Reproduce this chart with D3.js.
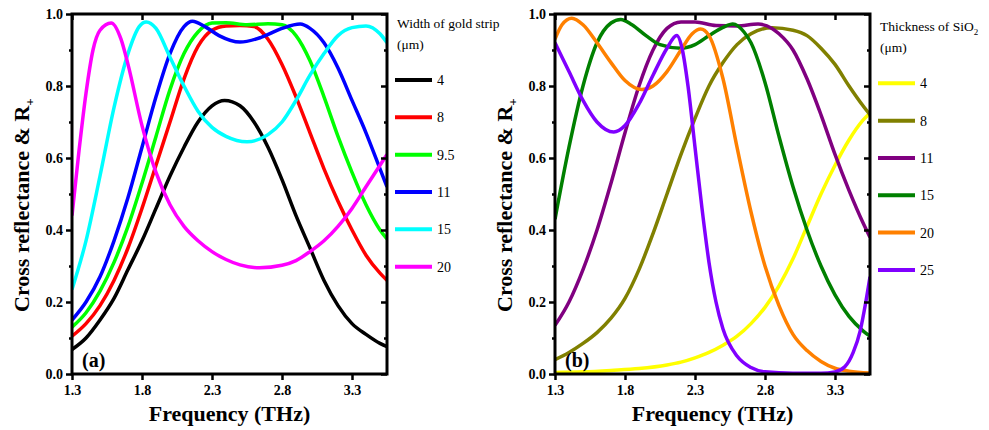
<!DOCTYPE html>
<html><head><meta charset="utf-8">
<script src="https://cdn.jsdelivr.net/npm/d3@7"></script>
<style>body{margin:0;background:#fff}</style>
</head><body><svg id="c" width="989" height="430"></svg>
<script>
// ---------- data ----------
const xTicks = [1.3, 1.8, 2.3, 2.8, 3.3];
const yTicks = [0, 0.2, 0.4, 0.6, 0.8, 1.0];
const yMinorTicks = [0.1, 0.3, 0.5, 0.7, 0.9];
const xDomain = [1.3, 3.55];

// Panel (a): width of gold strip (µm)
const widthLabels = ["4", "8", "9.5", "11", "15", "20"];
const widthColors = ["#000000", "#ff0000", "#00ff00", "#0000ff", "#00ffff", "#ff00ff"];
const w4 = [[1.3,0.068],[1.4,0.1],[1.5,0.15],[1.6,0.21],[1.7,0.29],[1.8,0.37],[1.9,0.46],[2.0,0.55],[2.1,0.63],[2.2,0.7],[2.3,0.745],[2.39,0.76],[2.5,0.745],[2.6,0.7],[2.7,0.63],[2.8,0.54],[2.9,0.44],[3.0,0.35],[3.1,0.26],[3.2,0.19],[3.3,0.14],[3.4,0.11],[3.5,0.085],[3.55,0.076]];
const w8 = [[1.3,0.105],[1.4,0.14],[1.5,0.19],[1.6,0.26],[1.7,0.35],[1.8,0.46],[1.9,0.58],[2.0,0.7],[2.1,0.82],[2.2,0.91],[2.3,0.955],[2.4,0.967],[2.5,0.968],[2.6,0.965],[2.7,0.93],[2.8,0.86],[2.9,0.77],[3.0,0.67],[3.1,0.57],[3.2,0.48],[3.3,0.4],[3.4,0.33],[3.5,0.28],[3.55,0.26]];
const w95 = [[1.3,0.13],[1.4,0.17],[1.5,0.23],[1.6,0.31],[1.7,0.41],[1.8,0.53],[1.9,0.66],[2.0,0.79],[2.1,0.89],[2.2,0.95],[2.3,0.975],[2.4,0.976],[2.55,0.97],[2.7,0.973],[2.8,0.97],[2.9,0.94],[3.0,0.87],[3.1,0.77],[3.2,0.66],[3.3,0.56],[3.4,0.47],[3.5,0.4],[3.55,0.375]];
const w11 = [[1.3,0.15],[1.4,0.2],[1.5,0.27],[1.6,0.37],[1.7,0.49],[1.8,0.63],[1.9,0.77],[2.0,0.89],[2.1,0.965],[2.16,0.98],[2.25,0.965],[2.35,0.94],[2.5,0.922],[2.65,0.935],[2.8,0.96],[2.93,0.972],[3.0,0.96],[3.1,0.92],[3.2,0.85],[3.3,0.76],[3.4,0.67],[3.5,0.57],[3.55,0.52]];
const w15 = [[1.3,0.235],[1.4,0.37],[1.5,0.55],[1.6,0.74],[1.7,0.89],[1.78,0.965],[1.83,0.978],[1.9,0.96],[2.0,0.88],[2.1,0.8],[2.2,0.73],[2.3,0.685],[2.4,0.66],[2.55,0.645],[2.7,0.665],[2.8,0.7],[2.9,0.76],[3.0,0.83],[3.1,0.89],[3.2,0.94],[3.3,0.962],[3.4,0.967],[3.5,0.945],[3.55,0.92]];
const w20 = [[1.3,0.44],[1.35,0.62],[1.4,0.78],[1.45,0.9],[1.5,0.955],[1.58,0.975],[1.65,0.93],[1.7,0.86],[1.8,0.69],[1.9,0.56],[2.0,0.47],[2.1,0.41],[2.2,0.37],[2.3,0.34],[2.4,0.318],[2.5,0.303],[2.64,0.295],[2.8,0.302],[2.9,0.315],[3.0,0.34],[3.1,0.37],[3.2,0.41],[3.3,0.46],[3.4,0.52],[3.5,0.58],[3.55,0.61]];

// Panel (b): thickness of SiO2 (µm)
const thickLabels = ["4", "8", "11", "15", "20", "25"];
const thickColors = ["#ffff00", "#808000", "#800080", "#008000", "#ff8000", "#8000ff"];
const t4 = [[1.3,0.004],[1.5,0.006],[1.7,0.01],[1.9,0.015],[2.1,0.025],[2.2,0.033],[2.3,0.045],[2.4,0.06],[2.5,0.08],[2.6,0.105],[2.7,0.14],[2.8,0.185],[2.9,0.245],[3.0,0.32],[3.1,0.41],[3.2,0.5],[3.3,0.58],[3.4,0.65],[3.5,0.705],[3.55,0.725]];
const t8 = [[1.3,0.04],[1.4,0.06],[1.5,0.085],[1.6,0.115],[1.7,0.155],[1.8,0.21],[1.9,0.29],[2.0,0.39],[2.1,0.5],[2.2,0.61],[2.3,0.71],[2.4,0.8],[2.5,0.865],[2.6,0.915],[2.7,0.945],[2.85,0.962],[3.0,0.955],[3.1,0.94],[3.2,0.905],[3.3,0.86],[3.4,0.8],[3.5,0.745],[3.55,0.72]];
const t11 = [[1.3,0.135],[1.4,0.2],[1.5,0.29],[1.6,0.4],[1.7,0.53],[1.8,0.67],[1.9,0.8],[2.0,0.9],[2.1,0.96],[2.2,0.978],[2.3,0.978],[2.45,0.968],[2.6,0.967],[2.75,0.972],[2.85,0.96],[2.9,0.945],[3.0,0.9],[3.1,0.82],[3.2,0.72],[3.3,0.61],[3.4,0.51],[3.5,0.42],[3.55,0.38]];
const t15 = [[1.3,0.43],[1.4,0.63],[1.5,0.8],[1.6,0.92],[1.7,0.975],[1.77,0.985],[1.85,0.97],[1.95,0.94],[2.05,0.915],[2.2,0.905],[2.3,0.915],[2.4,0.94],[2.5,0.963],[2.57,0.972],[2.65,0.95],[2.7,0.92],[2.8,0.81],[2.9,0.66],[3.0,0.52],[3.1,0.4],[3.2,0.3],[3.3,0.22],[3.4,0.16],[3.5,0.12],[3.55,0.105]];
const t20 = [[1.3,0.93],[1.35,0.97],[1.42,0.988],[1.5,0.97],[1.6,0.92],[1.7,0.865],[1.8,0.815],[1.92,0.79],[2.0,0.8],[2.1,0.84],[2.2,0.9],[2.28,0.945],[2.34,0.958],[2.4,0.94],[2.5,0.82],[2.6,0.63],[2.7,0.45],[2.8,0.3],[2.9,0.19],[3.0,0.11],[3.1,0.065],[3.2,0.035],[3.3,0.016],[3.4,0.008],[3.55,0.003]];
const t25 = [[1.3,0.92],[1.4,0.84],[1.5,0.76],[1.6,0.7],[1.72,0.672],[1.8,0.69],[1.9,0.75],[2.0,0.83],[2.1,0.905],[2.17,0.94],[2.21,0.9],[2.25,0.8],[2.3,0.63],[2.35,0.46],[2.4,0.31],[2.45,0.2],[2.5,0.125],[2.6,0.05],[2.7,0.018],[2.8,0.006],[3.0,0.002],[3.2,0.002],[3.3,0.006],[3.37,0.02],[3.43,0.06],[3.48,0.12],[3.52,0.2],[3.55,0.27]];

// ---------- drawing ----------
const svg = d3.select("#c");
const SERIF = "'Liberation Serif','Times New Roman',serif";
const plotTop = 14, plotBottom = 374;

function panel(opt) {
  const x = d3.scaleLinear().domain(xDomain).range([opt.left, opt.right]);
  const y = d3.scaleLinear().domain([0, 1]).range([plotBottom, plotTop]);
  const g = svg.append("g");
  const clipId = "clip" + opt.id;
  svg.append("clipPath").attr("id", clipId).append("rect")
    .attr("x", opt.left).attr("y", plotTop).attr("width", opt.right - opt.left).attr("height", plotBottom - plotTop);

  const line = d3.line().x(d => x(d[0])).y(d => y(d[1])).curve(d3.curveMonotoneX);
  const lg = g.append("g").attr("clip-path", `url(#${clipId})`);
  opt.series.forEach((s, i) => {
    lg.append("path").attr("d", line(s)).attr("fill", "none")
      .attr("stroke", opt.colors[i]).attr("stroke-width", 3.5).attr("stroke-linejoin", "round");
  });

  const fmt = d3.format(".1f");
  const ax = (sel) => {
    sel.attr("font-family", SERIF);
    sel.select(".domain").remove();
    sel.selectAll("line").attr("stroke", "#000").attr("stroke-width", 2.5);
    sel.selectAll("text").attr("font-family", SERIF).attr("font-weight", "bold")
      .attr("font-size", 14).attr("fill", "#000");
  };
  g.append("g").attr("transform", `translate(0,${plotBottom})`)
    .call(d3.axisBottom(x).tickValues(xTicks).tickFormat(fmt).tickSize(6).tickPadding(5)).call(ax);
  g.append("g").attr("transform", `translate(0,${plotTop})`)
    .call(d3.axisTop(x).tickValues(xTicks).tickFormat("").tickSize(-6)).call(ax);
  g.append("g").attr("transform", `translate(${opt.left},0)`)
    .call(d3.axisLeft(y).tickValues(yTicks).tickFormat(fmt).tickSize(6).tickPadding(3)).call(ax);
  g.append("g").attr("transform", `translate(${opt.left},0)`)
    .call(d3.axisLeft(y).tickValues(yMinorTicks).tickFormat("").tickSize(3)).call(ax);
  g.append("g").attr("transform", `translate(${opt.right},0)`)
    .call(d3.axisRight(y).tickValues(yTicks).tickFormat("").tickSize(-6)).call(ax);
  g.append("g").attr("transform", `translate(${opt.right},0)`)
    .call(d3.axisRight(y).tickValues(yMinorTicks).tickFormat("").tickSize(-3)).call(ax);

  g.append("rect").attr("x", opt.left).attr("y", plotTop)
    .attr("width", opt.right - opt.left).attr("height", plotBottom - plotTop)
    .attr("fill", "none").attr("stroke", "#000").attr("stroke-width", 3);

  g.append("text").attr("x", (opt.left + opt.right) / 2).attr("y", 421)
    .attr("text-anchor", "middle").attr("font-family", SERIF).attr("font-weight", "bold")
    .attr("font-size", 22).text("Frequency (THz)");
  const yt = g.append("text").attr("transform", `translate(${opt.left - 43.5},312) rotate(-90)`)
    .attr("font-family", SERIF).attr("font-weight", "bold").attr("font-size", 22);
  yt.append("tspan").text("Cross reflectance & R");
  yt.append("tspan").attr("font-size", 13).attr("dy", 5).text("+");

  g.append("text").attr("x", opt.left + 10).attr("y", 367)
    .attr("font-family", SERIF).attr("font-weight", "bold").attr("font-size", 20).text(opt.tag);

  const t1 = g.append("text").attr("x", opt.legX + 2).attr("y", opt.legY0 - 52)
    .attr("font-family", SERIF).attr("font-size", 13.5);
  t1.append("tspan").text(opt.title);
  if (opt.titleSub) t1.append("tspan").attr("font-size", 9).attr("dy", 4).text(opt.titleSub);
  g.append("text").attr("x", opt.legX + 2).attr("y", opt.legY0 - 32 + opt.unitDy)
    .attr("font-family", SERIF).attr("font-size", 13.5).text("(\u03bcm)");
  opt.labels.forEach((lab, i) => {
    const yy = opt.legY0 + 37.33 * i;
    g.append("line").attr("x1", opt.legX).attr("x2", opt.legX + 37).attr("y1", yy).attr("y2", yy)
      .attr("stroke", opt.colors[i]).attr("stroke-width", 4);
    g.append("text").attr("x", opt.legX + 42).attr("y", yy + 5)
      .attr("font-family", SERIF).attr("font-size", 14).text(lab);
  });
}

panel({id: "a", left: 72, right: 387, series: [w4, w8, w95, w11, w15, w20],
  colors: widthColors, labels: widthLabels, tag: "(a)",
  legX: 395, legY0: 80, title: "Width of gold strip", unitDy: 1});
panel({id: "b", left: 555, right: 870, series: [t4, t8, t11, t15, t20, t25],
  colors: thickColors, labels: thickLabels, tag: "(b)",
  legX: 878, legY0: 83.3, title: "Thickness of SiO", titleSub: "2", unitDy: 1});
</script>
</body></html>
